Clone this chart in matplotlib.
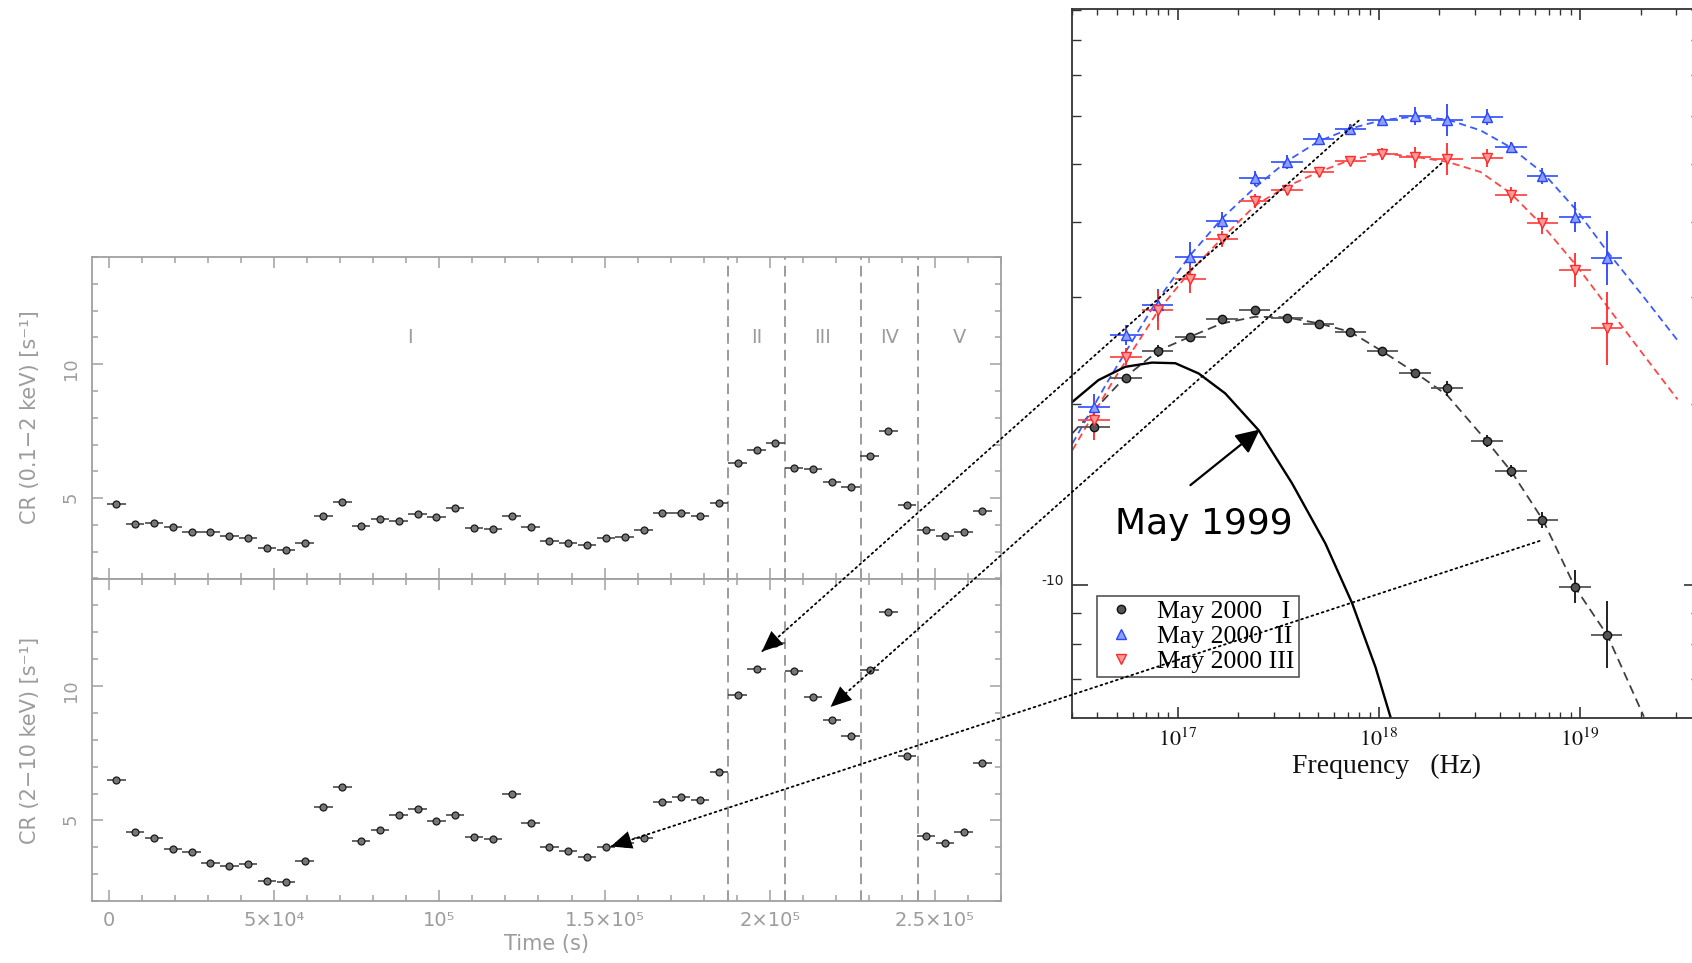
import numpy as np
import matplotlib
matplotlib.use("Agg")
import matplotlib.pyplot as plt
from matplotlib.patches import ConnectionPatch
from matplotlib.lines import Line2D
from matplotlib.ticker import MultipleLocator, FuncFormatter, NullFormatter

plt.rcParams['mathtext.fontset'] = 'stix'

# ---- light curve (bins of ~5.7 ks) ----
time_ks = [2.2, 7.9, 13.6, 19.3, 25.0, 30.7, 36.4, 42.1, 47.8, 53.5,
           59.2, 64.9, 70.6, 76.3, 82.0, 87.7, 93.4, 99.1, 104.8, 110.5,
           116.2, 121.9, 127.6, 133.3, 139.0, 144.7, 150.4, 156.1, 161.8, 167.5,
           173.2, 178.9, 184.6, 190.3, 196.0, 201.7, 207.4, 213.1, 218.8, 224.5,
           230.2, 235.9, 241.6, 247.3, 253.0, 258.7, 264.4]
bin_half_s = 2800
cr_soft = [4.78, 4.03, 4.08, 3.93, 3.75, 3.73, 3.60, 3.52, 3.15, 3.05,
           3.33, 4.35, 4.84, 3.96, 4.22, 4.16, 4.40, 4.29, 4.63, 3.87,
           3.84, 4.35, 3.93, 3.41, 3.33, 3.26, 3.53, 3.54, 3.82, 4.44,
           4.44, 4.35, 4.81, 6.31, 6.78, 7.05, 6.14, 6.10, 5.60, 5.42,
           6.57, 7.51, 4.75, 3.82, 3.59, 3.75, 4.53]
cr_hard = [6.49, 4.55, 4.34, 3.94, 3.82, 3.41, 3.29, 3.38, 2.73, 2.69,
           3.50, 5.50, 6.23, 4.22, 4.63, 5.19, 5.42, 4.96, 5.19, 4.38,
           4.32, 5.99, 4.91, 4.02, 3.86, 3.65, 4.02, 4.15, 4.33, 5.67,
           5.86, 5.76, 6.81, 9.68, 10.65, 11.6, 10.57, 9.58, 8.75, 8.14,
           10.58, 12.74, 7.41, 4.43, 4.16, 4.57, 7.14]
state_edges = [187400, 204700, 227500, 244800]
state_names = ["I", "II", "III", "IV", "V"]

# ---- spectral energy distribution ----
freq_e17 = [0.384, 0.554, 0.796, 1.157, 1.665, 2.414, 3.495, 5.029, 7.23,
            10.43, 15.17, 21.87, 34.46, 45.37, 64.94, 94.3, 135.9]
freq_err_dex = 0.078
sed_I = [1.826, 2.202, 2.446, 2.581, 2.758, 2.858, 2.776, 2.706, 2.631,
         2.441, 2.250, 2.120, 1.735, 1.547, 1.282, 0.995, 0.828]
sed_II = [1.971, 2.597, 2.913, 3.503, 4.021, 4.726, 5.035, 5.486, 5.704,
          5.904, 6.002, 5.904, 5.979, 5.333, 4.768, 4.082, 3.490]
sed_III = [1.877, 2.391, 2.858, 3.213, 3.748, 4.334, 4.519, 4.847, 5.049,
           5.194, 5.120, 5.087, 5.100, 4.435, 3.980, 3.330, 2.666]
err_I_dex = [0.008, 0.008, 0.010, 0.007, 0.007, 0.005, 0.005, 0.005, 0.005,
             0.005, 0.007, 0.013, 0.010, 0.010, 0.013, 0.028, 0.056]
err_II_dex = [0.022, 0.017, 0.027, 0.025, 0.015, 0.012, 0.012, 0.010, 0.008,
              0.007, 0.015, 0.027, 0.013, 0.008, 0.013, 0.025, 0.045]
err_III_dex = [0.032, 0.015, 0.033, 0.022, 0.013, 0.012, 0.008, 0.008, 0.007,
               0.010, 0.017, 0.027, 0.015, 0.013, 0.018, 0.028, 0.061]

# model curves (log10 nu, log10 flux + 10)
model_I_lognu = [16.478, 16.740, 16.906, 17.063, 17.221, 17.387, 17.544, 17.702, 17.859,
                 18.021, 18.183, 18.340, 18.539, 18.660, 18.816, 18.975, 19.136, 19.318]
model_I_logf = [0.252, 0.345, 0.389, 0.412, 0.434, 0.445, 0.444, 0.434, 0.420,
                0.387, 0.352, 0.315, 0.238, 0.188, 0.108, -0.003, -0.083, -0.218]
model_II_lognu = [16.478, 16.657, 16.889, 17.063, 17.221, 17.387, 17.544, 17.702, 17.859, 18.017,
                  18.183, 18.340, 18.506, 18.655, 18.821, 18.987, 19.136, 19.302, 19.485]
model_II_logf = [0.235, 0.340, 0.467, 0.547, 0.608, 0.660, 0.703, 0.736, 0.757, 0.771,
                 0.777, 0.772, 0.754, 0.726, 0.682, 0.620, 0.553, 0.484, 0.406]
model_III_lognu = [16.478, 16.682, 16.906, 17.063, 17.221, 17.387, 17.544, 17.702, 17.859, 18.017,
                   18.183, 18.340, 18.506, 18.655, 18.821, 18.987, 19.136, 19.286, 19.485]
model_III_logf = [0.224, 0.340, 0.456, 0.520, 0.575, 0.630, 0.661, 0.685, 0.705, 0.716,
                  0.710, 0.702, 0.685, 0.650, 0.594, 0.528, 0.462, 0.395, 0.308]
may1999_lognu = [16.478, 16.607, 16.740, 16.873, 16.989, 17.105, 17.237, 17.403, 17.569,
                 17.735, 17.868, 17.984, 18.058]
may1999_logf = [0.304, 0.340, 0.362, 0.369, 0.368, 0.351, 0.318, 0.257, 0.169,
                0.069, -0.030, -0.136, -0.218]

# arrows: (SED nu, SED flux) -> (time, hard CR)
links = [((7.95e17, 5.89e-10), (197600, 11.28)),
         ((2.05e18, 5.005e-10), (218400, 9.22)),
         ((6.30e18, 1.184e-10), (151900, 4.03))]

W, H = 1692, 963
fig = plt.figure(figsize=(W / 100, H / 100), dpi=100)


def box(x0, y0, x1, y1):
    return [x0 / W, 1 - y1 / H, (x1 - x0) / W, (y1 - y0) / H]


grey = '#a0a0a0'
txt_grey = '#9c9c9c'

ax_top = fig.add_axes(box(92, 257, 1001, 578.5))
ax_bot = fig.add_axes(box(92, 578.5, 1001, 901))
ax_sed = fig.add_axes(box(1072, 9.3, 1700, 717.7))

sup = str.maketrans('0123456789-', '⁰¹²³⁴⁵⁶⁷⁸⁹⁻')


def time_label(v, pos):
    if v == 0:
        return '0'
    e = int(np.floor(np.log10(abs(v)) + 1e-9))
    m = f'{v / 10 ** e:g}'
    ex = str(e).translate(sup)
    return f'10{ex}' if m == '1' else f'{m}×10{ex}'


t = np.array(time_ks) * 1e3
xlim = (-5150, 270000)
for ax, cr in ((ax_top, cr_soft), (ax_bot, cr_hard)):
    ax.errorbar(t, cr, xerr=bin_half_s, fmt='o', ms=5, mfc='#777', mec='#1a1a1a', mew=0.9,
                ecolor='#3a3a3a', elinewidth=1.1, capsize=0, zorder=3)
    for e in state_edges:
        ax.axvline(e, color='#808080', lw=1.1, ls=(0, (7, 4)), zorder=2)
    ax.set_xlim(*xlim)
    ax.set_ylim(2, 14)
    ax.xaxis.set_major_locator(MultipleLocator(5e4))
    ax.xaxis.set_minor_locator(MultipleLocator(1e4))
    ax.yaxis.set_major_locator(MultipleLocator(5))
    ax.yaxis.set_minor_locator(MultipleLocator(1))
    ax.tick_params(which='both', direction='in', top=True, right=True, colors=grey,
                   labelcolor=txt_grey)
    ax.tick_params(which='major', length=8, width=1.1)
    ax.tick_params(which='minor', length=4.5, width=1.1)
    ax.tick_params(axis='y', labelrotation=90, labelsize=13, pad=9)
    ax.xaxis.get_offset_text().set_visible(False)
    ax.yaxis.get_offset_text().set_visible(False)
    for s in ax.spines.values():
        s.set_color(grey)
        s.set_linewidth(1.3)

ax_top.tick_params(axis='x', labelbottom=False)
ax_bot.xaxis.set_major_formatter(FuncFormatter(time_label))
ax_bot.tick_params(axis='x', labelsize=14, pad=7)
ax_bot.set_xlabel('Time (s)', color=txt_grey, fontsize=15, labelpad=3)

bounds = [xlim[0]] + state_edges + [xlim[1]]
for name, a, b in zip(state_names, bounds[:-1], bounds[1:]):
    ax_top.text((a + b) / 2, 11, name, ha='center', va='center', color=txt_grey, fontsize=14)

fig.text(30 / W, 1 - 417 / H, 'CR (0.1−2 keV) [s⁻¹]', rotation=90, ha='center', va='center',
         color=txt_grey, fontsize=15)
fig.text(30 / W, 1 - 740 / H, 'CR (2−10 keV) [s⁻¹]', rotation=90, ha='center', va='center',
         color=txt_grey, fontsize=15)

# ---- SED panel ----
nu = np.array(freq_e17) * 1e17
xe = [nu * (1 - 10 ** -freq_err_dex), nu * (10 ** freq_err_dex - 1)]
series = [
    (sed_I, err_I_dex, 'o', '#555555', '#111111', '#555555', '#111111', 6),
    (sed_II, err_II_dex, '^', '#8ea0ff', '#2a45ff', '#3d5bff', '#2a45ff', 7),
    (sed_III, err_III_dex, 'v', '#ff9a9a', '#ff2a2a', '#ff4a4a', '#ff2a2a', 7),
]
for flux, err, mk, mfc, mec, hcol, vcol, ms in series:
    f = np.array(flux) * 1e-10
    d = np.array(err)
    ax_sed.errorbar(nu, f, xerr=xe, fmt='none', ecolor=hcol, elinewidth=1.3, capsize=0, zorder=3)
    ax_sed.errorbar(nu, f, yerr=[f * (1 - 10 ** -d), f * (10 ** d - 1)], fmt=mk, ms=ms,
                    mfc=mfc, mec=mec, mew=1.0, ecolor=vcol, elinewidth=1.3, capsize=0, zorder=4)

for lnu, lf, col, dash in ((model_I_lognu, model_I_logf, '#404040', (0, (5, 3))),
                           (model_II_lognu, model_II_logf, '#3b5bff', (0, (4, 2.5))),
                           (model_III_lognu, model_III_logf, '#ff4545', (0, (4, 2.5)))):
    ax_sed.plot(10 ** np.array(lnu), 10 ** (np.array(lf) - 10), color=col, lw=1.3, ls=dash, zorder=2)

ax_sed.plot(10 ** np.array(may1999_lognu), 10 ** (np.array(may1999_logf) - 10),
            color='k', lw=1.7, zorder=2)

ax_sed.set_xscale('log')
ax_sed.set_yscale('log')
ax_sed.set_xlim(2.99e16, 3.95e19)
ax_sed.set_ylim(6.03e-11, 9.01e-10)
ax_sed.xaxis.set_major_formatter(FuncFormatter(lambda v, p: f'$10^{{{int(round(np.log10(v)))}}}$'))
ax_sed.xaxis.set_minor_formatter(NullFormatter())
ax_sed.yaxis.set_major_formatter(FuncFormatter(lambda v, p: f'{np.log10(v):.0f}'))
ax_sed.yaxis.set_minor_formatter(NullFormatter())
ax_sed.xaxis.get_offset_text().set_visible(False)
ax_sed.yaxis.get_offset_text().set_visible(False)
ax_sed.tick_params(which='both', direction='in', top=True, right=True, colors='#333333')
ax_sed.tick_params(axis='x', which='major', length=8, width=1.2, labelsize=16, pad=7,
                   labelcolor='#111111')
ax_sed.tick_params(axis='x', which='minor', length=4.5, width=1.0)
ax_sed.tick_params(axis='y', which='major', length=11.5, width=1.2, labelsize=10, pad=6,
                   labelcolor='#222222')
ax_sed.tick_params(axis='y', which='minor', length=6.5, width=1.0)
for lbl in ax_sed.get_yticklabels():
    lbl.set_va('baseline')
for s in ax_sed.spines.values():
    s.set_color('#333333')
    s.set_linewidth(1.3)
ax_sed.set_xlabel('Frequency   (Hz)', fontfamily='Liberation Serif', fontsize=20, labelpad=3,
                  color='#111111')

handles = [Line2D([], [], ls='none', marker='o', ms=6, mfc='#555555', mec='#111111'),
           Line2D([], [], ls='none', marker='^', ms=7, mfc='#8ea0ff', mec='#2a45ff'),
           Line2D([], [], ls='none', marker='v', ms=7, mfc='#ff9a9a', mec='#ff2a2a')]
labels = ['May 2000   I', 'May 2000  II', 'May 2000 III']
leg = ax_sed.legend(handles, labels, loc='upper left', bbox_to_anchor=(0.0398, 0.1718),
                    borderaxespad=0, prop={'family': 'Liberation Serif', 'size': 18.5},
                    frameon=True, fancybox=False, edgecolor='#555555', framealpha=1,
                    labelspacing=0.08, handlelength=1.6, handletextpad=0.6, borderpad=0.15)
leg.get_frame().set_linewidth(1.2)

ax_sed.annotate('', xy=(2.564e17, 1.812e-10), xytext=(1.159e17, 1.465e-10),
                arrowprops=dict(arrowstyle='-|>,head_length=1.45,head_width=0.7', lw=1.6,
                                color='k', shrinkA=0, shrinkB=0, mutation_scale=10), zorder=5)
ax_sed.text(4.90e16, 1.218e-10, 'May 1999', fontfamily='DejaVu Sans', fontsize=26,
            ha='left', va='baseline', color='k', zorder=5)

for xa, xb in links:
    line = ConnectionPatch(xyA=xa, coordsA=ax_sed.transData, xyB=xb, coordsB=ax_bot.transData,
                           arrowstyle='-', linestyle=(0, (1, 2)), lw=1.3, color='k', zorder=10)
    head = ConnectionPatch(xyA=xa, coordsA=ax_sed.transData, xyB=xb, coordsB=ax_bot.transData,
                           arrowstyle='-|>,head_length=1.5,head_width=0.65', mutation_scale=10,
                           lw=0, color='k', zorder=11)
    fig.add_artist(line)
    fig.add_artist(head)

fig.savefig('out.png', dpi=100)
